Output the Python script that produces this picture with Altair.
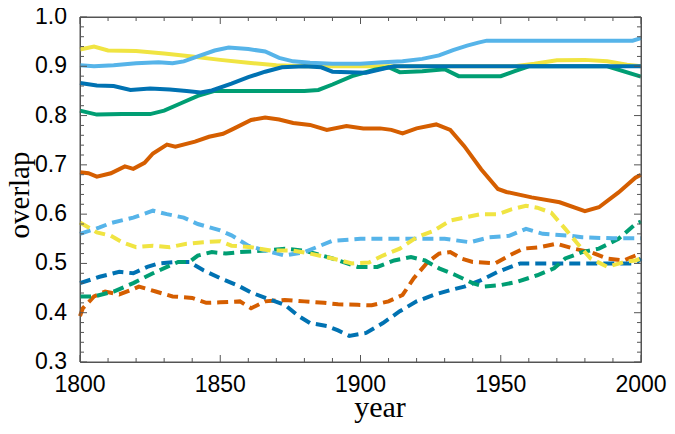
import altair as alt
import pandas as pd

# ---------------- data ----------------
ORANGE = "#D55E00"
GREEN = "#009E73"
BLUE = "#0072B2"
SKY = "#56B4E9"
YELLOW = "#F0E442"

# solid lines
yellow_s_years = [1800, 1805, 1810, 1820, 1830, 1840, 1850, 1860, 1870, 1880, 1900, 1930, 1955, 1962, 1970, 1980, 1988, 1995, 2000]
yellow_s_vals = [0.934, 0.940, 0.932, 0.931, 0.926, 0.920, 0.913, 0.907, 0.902, 0.900, 0.900, 0.900, 0.900, 0.905, 0.912, 0.913, 0.910, 0.903, 0.900]

sky_s_years = [1800, 1805, 1812, 1820, 1828, 1833, 1837, 1842, 1848, 1853, 1860, 1866, 1871, 1876, 1882, 1890, 1900, 1908, 1915, 1922, 1928, 1933, 1938, 1942, 1945, 1960, 1980, 1997, 2000]
sky_s_vals = [0.902, 0.900, 0.902, 0.906, 0.908, 0.906, 0.910, 0.920, 0.932, 0.938, 0.935, 0.930, 0.917, 0.910, 0.907, 0.905, 0.905, 0.908, 0.910, 0.915, 0.922, 0.933, 0.942, 0.948, 0.952, 0.952, 0.952, 0.952, 0.957]

blue_s_years = [1800, 1806, 1812, 1818, 1825, 1832, 1838, 1843, 1847, 1854, 1860, 1866, 1872, 1880, 1886, 1890, 1902, 1908, 1912, 1950, 2000]
blue_s_vals = [0.866, 0.861, 0.860, 0.852, 0.855, 0.853, 0.850, 0.847, 0.851, 0.865, 0.878, 0.889, 0.898, 0.900, 0.898, 0.889, 0.887, 0.895, 0.900, 0.900, 0.900]

green_s_years = [1800, 1803, 1806, 1815, 1825, 1830, 1836, 1842, 1848, 1880, 1885, 1890, 1897, 1905, 1910, 1914, 1922, 1930, 1935, 1950, 1955, 1960, 1988, 2000]
green_s_vals = [0.810, 0.806, 0.802, 0.803, 0.803, 0.810, 0.825, 0.840, 0.850, 0.850, 0.852, 0.863, 0.880, 0.893, 0.898, 0.888, 0.890, 0.894, 0.880, 0.880, 0.890, 0.900, 0.900, 0.879]

orange_s_years = [1800, 1803, 1806, 1811, 1816, 1819, 1823, 1826, 1831, 1834, 1841, 1846, 1851, 1855, 1861, 1866, 1871, 1876, 1882, 1888, 1895, 1901, 1907, 1911, 1915, 1920, 1927, 1932, 1937, 1943, 1949, 1952, 1961, 1971, 1980, 1985, 1992, 1998, 2000]
orange_s_vals = [0.685, 0.683, 0.676, 0.683, 0.697, 0.692, 0.704, 0.723, 0.741, 0.737, 0.747, 0.757, 0.763, 0.774, 0.791, 0.796, 0.792, 0.785, 0.781, 0.771, 0.779, 0.774, 0.774, 0.771, 0.764, 0.774, 0.782, 0.771, 0.738, 0.691, 0.651, 0.645, 0.634, 0.624, 0.606, 0.614, 0.644, 0.674, 0.680]

# dashed lines
sky_d_years = [1800, 1807, 1811, 1819, 1826, 1831, 1837, 1842, 1850, 1854, 1860, 1866, 1873, 1880, 1890, 1900, 1930, 1939, 1946, 1953, 1959, 1965, 1975, 1979, 1990, 2000]
sky_d_vals = [0.560, 0.573, 0.582, 0.593, 0.607, 0.600, 0.593, 0.580, 0.567, 0.557, 0.536, 0.526, 0.516, 0.523, 0.546, 0.550, 0.550, 0.543, 0.553, 0.556, 0.570, 0.560, 0.556, 0.553, 0.551, 0.551]

yellow_d_years = [1800, 1806, 1811, 1815, 1820, 1826, 1832, 1838, 1844, 1850, 1854, 1861, 1868, 1876, 1882, 1890, 1897, 1903, 1908, 1914, 1920, 1926, 1932, 1937, 1943, 1949, 1954, 1959, 1963, 1968, 1973, 1978, 1982, 1988, 1994, 1998, 2000]
yellow_d_vals = [0.583, 0.563, 0.556, 0.543, 0.533, 0.536, 0.533, 0.540, 0.543, 0.545, 0.536, 0.533, 0.526, 0.526, 0.520, 0.510, 0.500, 0.502, 0.516, 0.530, 0.553, 0.566, 0.587, 0.593, 0.600, 0.600, 0.610, 0.617, 0.613, 0.603, 0.570, 0.536, 0.510, 0.493, 0.503, 0.506, 0.510]

green_d_years = [1800, 1805, 1812, 1819, 1826, 1831, 1835, 1839, 1842, 1847, 1852, 1857, 1866, 1873, 1880, 1890, 1899, 1906, 1912, 1918, 1923, 1928, 1934, 1940, 1944, 1950, 1956, 1963, 1969, 1973, 1979, 1985, 1992, 1998, 2000]
green_d_vals = [0.433, 0.433, 0.443, 0.460, 0.480, 0.493, 0.503, 0.503, 0.516, 0.523, 0.520, 0.523, 0.526, 0.530, 0.526, 0.510, 0.493, 0.493, 0.506, 0.513, 0.506, 0.490, 0.476, 0.460, 0.453, 0.456, 0.463, 0.476, 0.490, 0.510, 0.523, 0.530, 0.550, 0.580, 0.585]

blue_d_years = [1800, 1807, 1814, 1819, 1824, 1828, 1834, 1839, 1844, 1850, 1856, 1861, 1868, 1873, 1878, 1882, 1888, 1892, 1896, 1902, 1908, 1914, 1920, 1926, 1932, 1937, 1943, 1949, 1955, 1957, 1998, 2000]
blue_d_vals = [0.460, 0.473, 0.483, 0.480, 0.493, 0.500, 0.503, 0.503, 0.486, 0.470, 0.456, 0.441, 0.426, 0.416, 0.393, 0.379, 0.373, 0.364, 0.353, 0.359, 0.379, 0.403, 0.423, 0.436, 0.446, 0.453, 0.466, 0.483, 0.496, 0.500, 0.500, 0.510]

orange_d_years = [1800, 1801, 1805, 1809, 1814, 1819, 1821, 1827, 1833, 1840, 1845, 1850, 1857, 1861, 1866, 1873, 1880, 1887, 1892, 1899, 1904, 1910, 1915, 1919, 1924, 1928, 1932, 1936, 1940, 1948, 1953, 1958, 1964, 1970, 1976, 1982, 1988, 1994, 1998, 2000]
orange_d_vals = [0.393, 0.409, 0.433, 0.443, 0.437, 0.448, 0.453, 0.443, 0.433, 0.430, 0.420, 0.421, 0.423, 0.409, 0.423, 0.426, 0.423, 0.420, 0.417, 0.416, 0.415, 0.423, 0.436, 0.470, 0.503, 0.520, 0.523, 0.510, 0.503, 0.500, 0.516, 0.530, 0.533, 0.540, 0.530, 0.523, 0.510, 0.506, 0.516, 0.520]

x_major = [1800, 1850, 1900, 1950, 2000]
y_major = [0.3, 0.4, 0.5, 0.6, 0.7, 0.8, 0.9, 1.0]
x_minor = [y for y in range(1810, 2000, 10) if y % 50 != 0]
y_minor = [round(0.3 + 0.02 * i, 2) for i in range(1, 35) if i % 5 != 0]
x_title = ["year"]
y_title = ["overlap"]

# draw order: dashed first, then solids (dark blue on top)
series = [
    (orange_d_years, orange_d_vals, ORANGE, True),
    (blue_d_years, blue_d_vals, BLUE, True),
    (green_d_years, green_d_vals, GREEN, True),
    (sky_d_years, sky_d_vals, SKY, True),
    (yellow_d_years, yellow_d_vals, YELLOW, True),
    (orange_s_years, orange_s_vals, ORANGE, False),
    (yellow_s_years, yellow_s_vals, YELLOW, False),
    (green_s_years, green_s_vals, GREEN, False),
    (sky_s_years, sky_s_vals, SKY, False),
    (blue_s_years, blue_s_vals, BLUE, False),
]

# ---------------- chart ----------------
W, H = 561, 345
FRAME = "#555555"
x_scale = alt.Scale(domain=[1800, 2000], nice=False, zero=False)
y_scale = alt.Scale(domain=[0.3, 1.0], nice=False, zero=False)

layers = []
for yrs, vals, col, dashed in series:
    df = pd.DataFrame({"year": yrs, "value": vals})
    if dashed:
        mark = alt.Chart(df).mark_line(color=col, strokeWidth=4, strokeDash=[11, 6])
    else:
        mark = alt.Chart(df).mark_line(color=col, strokeWidth=4)
    layers.append(
        mark.encode(
            x=alt.X("year:Q", scale=x_scale, axis=None),
            y=alt.Y("value:Q", scale=y_scale, axis=None),
        )
    )


def x_tick_rules(values, size):
    df = pd.DataFrame({"year": values})
    base = alt.Chart(df).mark_rule(color=FRAME, strokeWidth=1)
    xenc = alt.X("year:Q", scale=x_scale, axis=None)
    return [
        base.encode(x=xenc, y=alt.value(H), y2=alt.value(H - size)),
        base.encode(x=xenc, y=alt.value(0), y2=alt.value(size)),
    ]


def y_tick_rules(values, size):
    df = pd.DataFrame({"value": values})
    base = alt.Chart(df).mark_rule(color=FRAME, strokeWidth=1)
    yenc = alt.Y("value:Q", scale=y_scale, axis=None)
    return [
        base.encode(y=yenc, x=alt.value(0), x2=alt.value(size)),
        base.encode(y=yenc, x=alt.value(W), x2=alt.value(W - size)),
    ]


layers += x_tick_rules(x_major, 7) + x_tick_rules(x_minor, 4)
layers += y_tick_rules(y_major, 7) + y_tick_rules(y_minor, 4)

# plot frame
frame_df = pd.DataFrame({"k": [0]})
fb = alt.Chart(frame_df).mark_rule(color=FRAME, strokeWidth=1)
layers += [
    fb.encode(x=alt.value(0), y=alt.value(0), y2=alt.value(H)),
    fb.encode(x=alt.value(W), y=alt.value(0), y2=alt.value(H)),
    fb.encode(y=alt.value(0), x=alt.value(0), x2=alt.value(W)),
    fb.encode(y=alt.value(H), x=alt.value(0), x2=alt.value(W)),
]

# tick labels (as text marks placed through the scales)
xlab_df = pd.DataFrame({"year": x_major})
layers.append(
    alt.Chart(xlab_df).mark_text(
        font="Liberation Sans", fontSize=23, color="black", align="center", baseline="top"
    ).encode(
        x=alt.X("year:Q", scale=x_scale, axis=None),
        y=alt.value(H + 12),
        text=alt.Text("year:Q", format="d"),
    )
)
ylab_df = pd.DataFrame({"value": y_major})
layers.append(
    alt.Chart(ylab_df).mark_text(
        font="Liberation Sans", fontSize=23, color="black", align="right", baseline="middle"
    ).encode(
        y=alt.Y("value:Q", scale=y_scale, axis=None),
        x=alt.value(-13),
        text=alt.Text("value:Q", format=".1f"),
    )
)

# axis titles
layers.append(
    alt.Chart(pd.DataFrame({"label": x_title})).mark_text(
        font="Liberation Serif", fontSize=30, color="black", align="center", baseline="alphabetic"
    ).encode(x=alt.value(300), y=alt.value(H + 55), text="label:N")
)
layers.append(
    alt.Chart(pd.DataFrame({"label": y_title})).mark_text(
        font="Liberation Serif", fontSize=29, color="black", align="center",
        baseline="alphabetic", angle=270,
    ).encode(x=alt.value(-51), y=alt.value(178), text="label:N")
)

chart = (
    alt.layer(*layers)
    .properties(
        width=W, height=H,
        padding={"left": 72, "top": 9, "right": 26, "bottom": 64},
        autosize=alt.AutoSizeParams(type="none"),
        background="white",
    )
    .configure_view(stroke=FRAME, strokeWidth=1)
)

chart.save("out.html", embed_options={"renderer": "svg", "actions": False})
